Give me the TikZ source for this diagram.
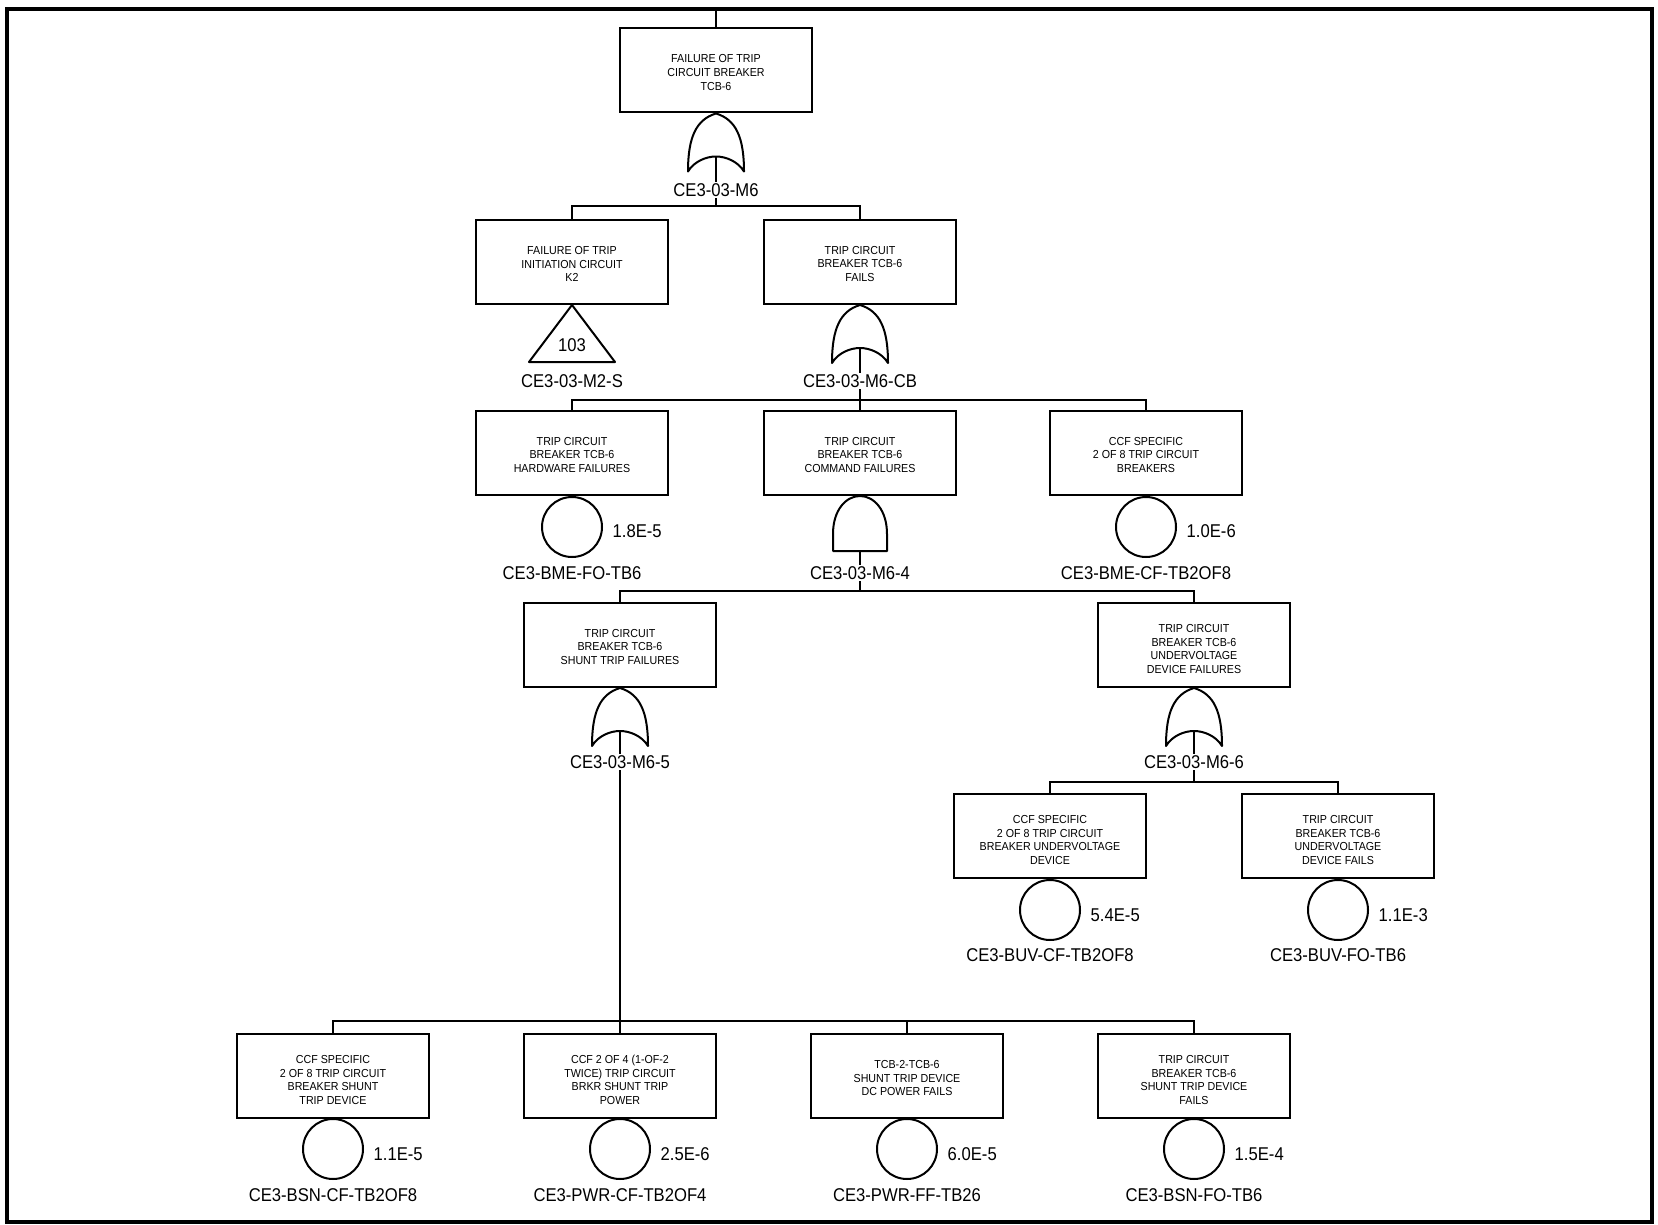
\documentclass[tikz,border=0pt]{standalone}
\usepackage{fontspec}
\setmainfont{Liberation Sans}
\newfontfamily\boxfam[FakeStretch=0.92]{Liberation Sans}
\newfontfamily\lblfam[FakeStretch=0.9]{Liberation Sans}
\newcommand\boxfnt{\boxfam\fontsize{11.6}{13.6}\selectfont}
\newcommand\lblfnt{\lblfam\fontsize{18.5}{20}\selectfont}
\tikzset{
  box/.style={draw, line width=2pt, minimum width=192pt, minimum height=84pt, inner sep=0pt, fill=white},
  boxtxt/.style={align=center, font=\boxfnt, inner sep=0pt},
  tthree/.style={boxtxt, yshift=-2pt},
  tfour/.style={boxtxt, yshift=-4pt},
  lbl/.style={font=\lblfnt, inner sep=1.5pt, text height=13.2pt, text depth=0pt},
  basic/.style={circle, draw, line width=2pt, minimum size=60pt, inner sep=0pt},
  conn/.style={line width=1.8pt},
  gate/.style={line width=2pt, line join=round},
  orgate/.pic={
    \draw[gate] (0,0) .. controls (-20,6) and (-28,24) .. (-28,58)
      .. controls (-22,48) and (-10,43) .. (0,43)
      .. controls (10,43) and (22,48) .. (28,58)
      .. controls (28,24) and (20,6) .. (0,0) -- cycle;
    \coordinate (-out) at (0,43);
  },
  andgate/.pic={
    \draw[gate] (-27,55) -- (-27,38) .. controls (-27,14) and (-14,0) .. (0,0)
      .. controls (14,0) and (27,14) .. (27,38) -- (27,55) -- cycle;
    \coordinate (-out) at (0,55);
  }
}
\begin{document}
\begin{tikzpicture}[x=1pt,y=-1pt]
\useasboundingbox (0,0) rectangle (1658,1225);
\draw[line width=4.5pt] (7,9) rectangle (1652,1222);
% top
\node[box] (t0) at (716,70.5) {};
\node[tthree] (t0t) at (t0.center) {FAILURE OF TRIP\\CIRCUIT BREAKER\\TCB-6};
\coordinate (top) at (716,11);
\draw[conn] (top) -- (t0.north);
\pic (g0) at (t0.south) {orgate};
\node[lbl] (l0) at (716,190) {CE3-03-M6};
\draw[conn] (g0-out) -- (l0.north);
\coordinate (j0) at (716,206);
\draw[conn] (l0.south) -- (j0);
% row 2
\node[box] (b21) at (572,262) {};
\node[tthree] (b21t) at (b21.center) {FAILURE OF TRIP\\INITIATION CIRCUIT\\K2};
\node[box] (b22) at (860,262) {};
\node[tthree] (b22t) at (b22.center) {TRIP CIRCUIT\\BREAKER TCB-6\\FAILS};
\draw[conn] (b21.north) |- (j0) -| (b22.north);
\draw[gate] (b21.south) -- ++(-43,57) -- ++(86,0) -- cycle;
\node[lbl] (n103) at (572,345) {103};
\node[lbl] (l21) at (572,381) {CE3-03-M2-S};
\pic (g22) at (b22.south) {orgate};
\node[lbl] (l22) at (860,381) {CE3-03-M6-CB};
\draw[conn] (g22-out) -- (l22.north);
\coordinate (j2) at (860,400);
\draw[conn] (l22.south) -- (j2);
% row 3
\node[box] (b31) at (572,453) {};
\node[tthree] (b31t) at (b31.center) {TRIP CIRCUIT\\BREAKER TCB-6\\HARDWARE FAILURES};
\node[box] (b32) at (860,453) {};
\node[tthree] (b32t) at (b32.center) {TRIP CIRCUIT\\BREAKER TCB-6\\COMMAND FAILURES};
\node[box] (b33) at (1146,453) {};
\node[tthree] (b33t) at (b33.center) {CCF SPECIFIC\\2 OF 8 TRIP CIRCUIT\\BREAKERS};
\draw[conn] (b31.north) |- (j2) -| (b33.north);
\draw[conn] (j2) -- (b32.north);
\node[basic] (e31) at (572,527) {};
\draw[conn] (b31.south) -- (e31.north);
\node[lbl, anchor=west] (v31) at (611,531) {1.8E-5};
\node[lbl] (l31) at (572,573) {CE3-BME-FO-TB6};
\pic (g32) at (b32.south) {andgate};
\node[lbl] (l32) at (860,573) {CE3-03-M6-4};
\draw[conn] (g32-out) -- (l32.north);
\coordinate (j3) at (860,591);
\draw[conn] (l32.south) -- (j3);
\node[basic] (e33) at (1146,527) {};
\draw[conn] (b33.south) -- (e33.north);
\node[lbl, anchor=west] (v33) at (1185,531) {1.0E-6};
\node[lbl] (l33) at (1146,573) {CE3-BME-CF-TB2OF8};
% row 4
\node[box] (b41) at (620,645) {};
\node[tthree] (b41t) at (b41.center) {TRIP CIRCUIT\\BREAKER TCB-6\\SHUNT TRIP FAILURES};
\node[box] (b42) at (1194,645) {};
\node[tfour] (b42t) at (b42.center) {TRIP CIRCUIT\\BREAKER TCB-6\\UNDERVOLTAGE\\DEVICE FAILURES};
\draw[conn] (b41.north) |- (j3) -| (b42.north);
\pic (g41) at (b41.south) {orgate};
\node[lbl] (l41) at (620,762) {CE3-03-M6-5};
\draw[conn] (g41-out) -- (l41.north);
\pic (g42) at (b42.south) {orgate};
\node[lbl] (l42) at (1194,762) {CE3-03-M6-6};
\draw[conn] (g42-out) -- (l42.north);
\coordinate (j42) at (1194,782);
\draw[conn] (l42.south) -- (j42);
% row 5
\node[box] (b51) at (1050,836) {};
\node[tfour] (b51t) at (b51.center) {CCF SPECIFIC\\2 OF 8 TRIP CIRCUIT\\BREAKER UNDERVOLTAGE\\DEVICE};
\node[box] (b52) at (1338,836) {};
\node[tfour] (b52t) at (b52.center) {TRIP CIRCUIT\\BREAKER TCB-6\\UNDERVOLTAGE\\DEVICE FAILS};
\draw[conn] (b51.north) |- (j42) -| (b52.north);
\node[basic] (e51) at (1050,910) {};
\draw[conn] (b51.south) -- (e51.north);
\node[lbl, anchor=west] (v51) at (1089,915) {5.4E-5};
\node[lbl] (l51) at (1050,955) {CE3-BUV-CF-TB2OF8};
\node[basic] (e52) at (1338,910) {};
\draw[conn] (b52.south) -- (e52.north);
\node[lbl, anchor=west] (v52) at (1377,915) {1.1E-3};
\node[lbl] (l52) at (1338,955) {CE3-BUV-FO-TB6};
% row 6
\coordinate (j41) at (620,1021);
\draw[conn] (l41.south) -- (j41);
\node[box] (b61) at (333,1076) {};
\node[tfour] (b61t) at (b61.center) {CCF SPECIFIC\\2 OF 8 TRIP CIRCUIT\\BREAKER SHUNT\\TRIP DEVICE};
\node[box] (b62) at (620,1076) {};
\node[tfour] (b62t) at (b62.center) {CCF 2 OF 4 (1-OF-2\\TWICE) TRIP CIRCUIT\\BRKR SHUNT TRIP\\POWER};
\node[box] (b63) at (907,1076) {};
\node[tthree] (b63t) at (b63.center) {TCB-2-TCB-6\\SHUNT TRIP DEVICE\\DC POWER FAILS};
\node[box] (b64) at (1194,1076) {};
\node[tfour] (b64t) at (b64.center) {TRIP CIRCUIT\\BREAKER TCB-6\\SHUNT TRIP DEVICE\\FAILS};
\draw[conn] (b61.north) |- (j41) -| (b64.north);
\draw[conn] (j41) -- (b62.north);
\draw[conn] (b63.north) -- (b63.north |- j41);
\foreach \n/\x/\v/\t in {61/333/1.1E-5/CE3-BSN-CF-TB2OF8, 62/620/2.5E-6/CE3-PWR-CF-TB2OF4, 63/907/6.0E-5/CE3-PWR-FF-TB26, 64/1194/1.5E-4/CE3-BSN-FO-TB6}{
  \node[basic] (e\n) at (\x,1149) {};
  \draw[conn] (b\n.south) -- (e\n.north);
  \node[lbl, anchor=west] (v\n) at (\x+39,1154) {\v};
  \node[lbl] (l\n) at (\x,1195) {\t};
}
\end{tikzpicture}
\end{document}
